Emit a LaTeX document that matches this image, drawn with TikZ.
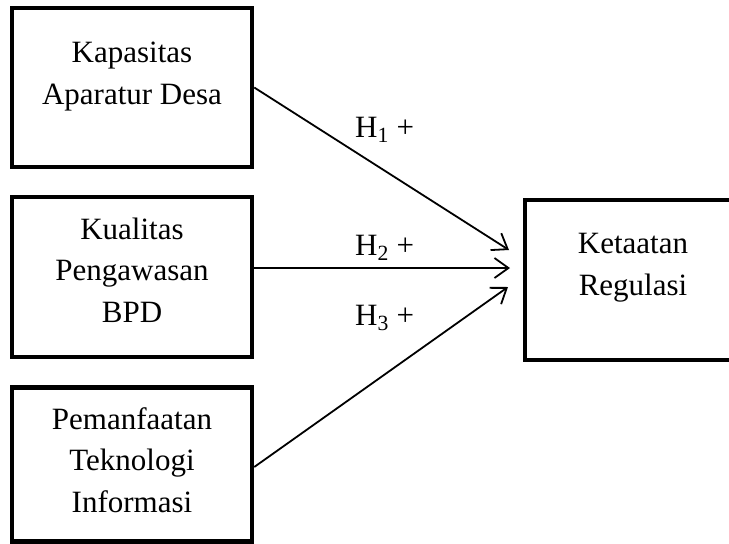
\documentclass[tikz,border=0pt]{standalone}
\usepackage{fontspec}
\setmainfont{Liberation Serif}
\usetikzlibrary{arrows.meta}
\begin{document}
\begin{tikzpicture}[x=1pt,y=-1pt,
  every node/.style={font=\fontsize{31}{41.5}\selectfont},
  varbox/.style={draw, line width=4.5pt, inner sep=0pt, rectangle},
  boxtext/.style={align=center, anchor=base, inner sep=0pt},
  hyp/.style={anchor=base west, inner sep=0pt},
  link/.style={line width=1.8pt, -{Straight Barb[length=14pt,width=20pt,line width=1.8pt]}}]
\useasboundingbox (0,0) rectangle (729,544);

% independent variables
\node[varbox, minimum width=240pt, minimum height=159pt] (x1) at (132,87.5) {};
\node[varbox, minimum width=240pt, minimum height=160pt] (x2) at (132,277) {};
\node[varbox, minimum width=240pt, minimum height=154pt] (x3) at (132,464.5) {};
% dependent variable
\node[varbox, minimum width=216pt, minimum height=160pt] (y) at (633,280) {};

% texts, anchored at the baseline of their last line
\node[boxtext] (t1) at (132,104) {Kapasitas\\Aparatur Desa};
\node[boxtext] (t2) at (132,322) {Kualitas\\Pengawasan\\BPD};
\node[boxtext] (t3) at (132,512) {Pemanfaatan\\Teknologi\\Informasi};
\node[boxtext] (ty) at (633,295) {Ketaatan\\Regulasi};

% arrow tips in front of the dependent box
\coordinate (e1) at (509,250);
\coordinate (e2) at (510,268);
\coordinate (e3) at (508,287);
\coordinate (s2) at ([yshift=9pt]x2.east);
\coordinate (s3) at ([yshift=-2.5pt]x3.east);

\draw[link] (x1.east) -- (e1);
\draw[link] (s2) -- (e2);
\draw[link] (s3) -- (e3);

\node[hyp] (h1) at (355,137) {H\textsubscript{1} +};
\node[hyp] (h2) at (355,255) {H\textsubscript{2} +};
\node[hyp] (h3) at (355,325) {H\textsubscript{3} +};
\end{tikzpicture}
\end{document}
